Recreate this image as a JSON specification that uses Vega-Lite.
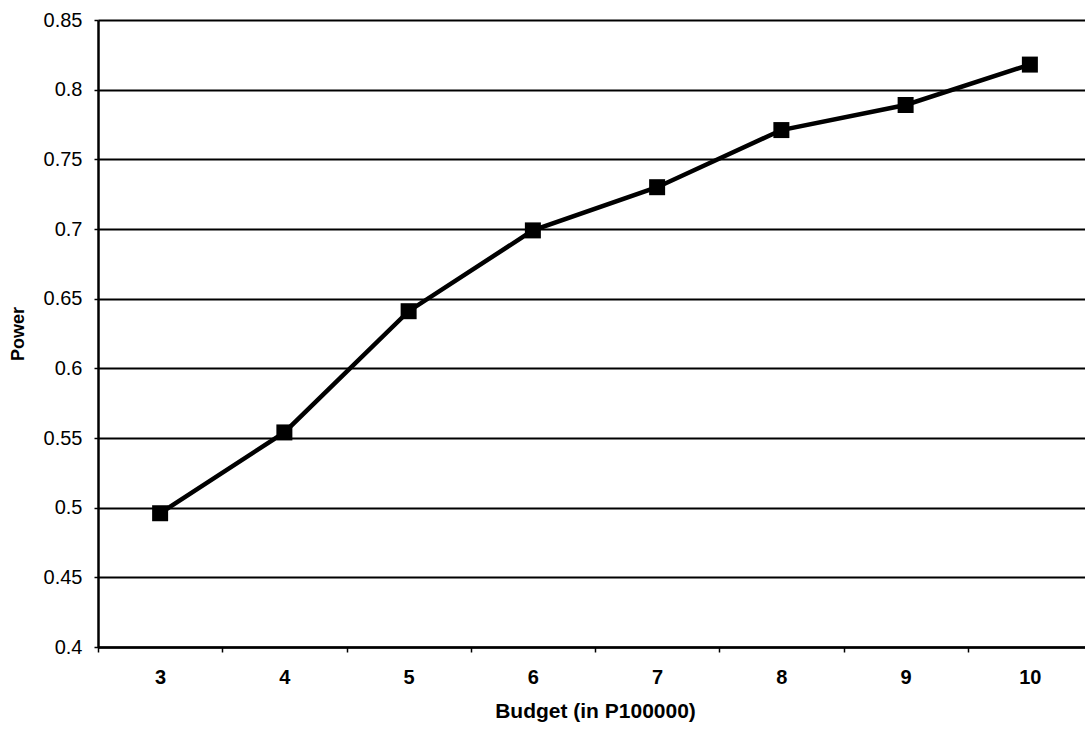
{
  "$schema": "https://vega.github.io/schema/vega-lite/v6.json",
  "width": 994,
  "height": 627,
  "autosize": "none",
  "padding": {"left": 98, "top": 20, "right": 0, "bottom": 84},
  "background": "white",
  "config": {
    "view": {"stroke": null},
    "font": "Liberation Sans",
    "axis": {
      "labelColor": "black",
      "titleColor": "black",
      "labelFont": "Liberation Sans",
      "titleFont": "Liberation Sans"
    }
  },
  "data": {
    "values": [
      {"budget": 3, "power": 0.496},
      {"budget": 4, "power": 0.554},
      {"budget": 5, "power": 0.641},
      {"budget": 6, "power": 0.699},
      {"budget": 7, "power": 0.730},
      {"budget": 8, "power": 0.771},
      {"budget": 9, "power": 0.789},
      {"budget": 10, "power": 0.818}
    ]
  },
  "resolve": {"axis": {"x": "independent"}},
  "layer": [
    {
      "mark": {"type": "line", "color": "black", "strokeWidth": 4.5},
      "encoding": {
        "x": {
          "field": "budget",
          "type": "quantitative",
          "scale": {"domain": [2.5, 10.5], "nice": false, "zero": false},
          "axis": {
            "orient": "bottom",
            "values": [3, 4, 5, 6, 7, 8, 9, 10],
            "ticks": false,
            "domain": false,
            "grid": false,
            "labelFontSize": 20,
            "labelFontWeight": "bold",
            "labelPadding": 20,
            "title": "Budget (in P100000)",
            "titleFontSize": 21,
            "titleFontWeight": "bold",
            "titlePadding": 13
          }
        },
        "y": {
          "field": "power",
          "type": "quantitative",
          "scale": {"domain": [0.4, 0.85], "nice": false, "zero": false},
          "axis": {
            "values": [0.4, 0.45, 0.5, 0.55, 0.6, 0.65, 0.7, 0.75, 0.8, 0.85],
            "format": ".2~f",
            "grid": true,
            "gridColor": "black",
            "gridWidth": 1.8,
            "gridOpacity": 1,
            "domainColor": "black",
            "domainWidth": 2.5,
            "tickColor": "black",
            "tickWidth": 1.5,
            "tickSize": 4,
            "labelFontSize": 20,
            "labelPadding": 12,
            "title": "Power",
            "titleFontSize": 18,
            "titleFontWeight": "bold",
            "titlePadding": 16
          }
        }
      }
    },
    {
      "mark": {"type": "point", "shape": "square", "filled": true, "color": "black", "size": 256, "opacity": 1},
      "encoding": {
        "x": {
          "field": "budget",
          "type": "quantitative",
          "axis": {
            "orient": "bottom",
            "values": [2.5, 3.5, 4.5, 5.5, 6.5, 7.5, 8.5, 9.5, 10.5],
            "labels": false,
            "grid": false,
            "title": null,
            "domainColor": "black",
            "domainWidth": 2.5,
            "tickColor": "black",
            "tickWidth": 1.5,
            "tickSize": 5
          }
        },
        "y": {"field": "power", "type": "quantitative"}
      }
    }
  ]
}
